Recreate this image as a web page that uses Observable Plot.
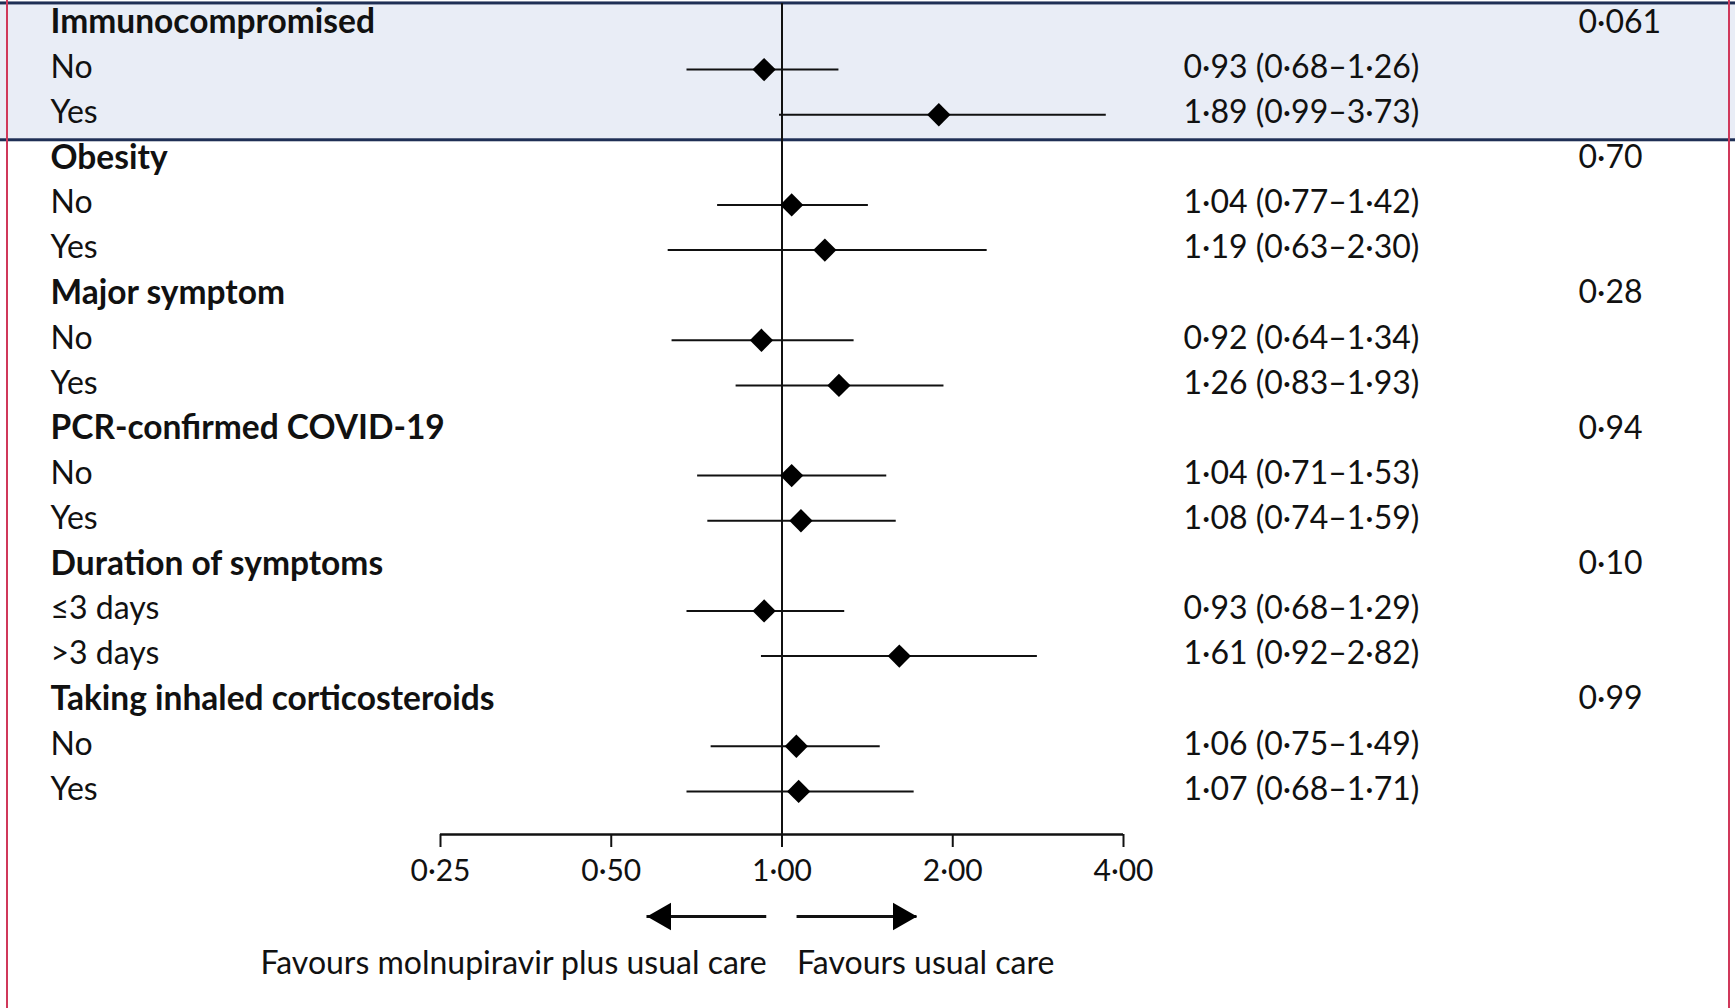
<!DOCTYPE html>
<html><head><meta charset="utf-8">
<script src="https://cdn.jsdelivr.net/npm/d3@7"></script>
<script src="https://cdn.jsdelivr.net/npm/@observablehq/plot@0.6"></script>
<style>
html,body{margin:0;padding:0;background:#fff;}
#wrap{position:relative;width:1735px;height:1008px;overflow:hidden;}
#wrap::before,#wrap::after{content:"";position:absolute;top:0;bottom:0;width:1.5px;background:#d0385a;z-index:2;}
#wrap::before{left:6px;}
#wrap::after{left:1728px;}
</style></head><body><div id="wrap"></div>
<script>
// ---- data ----
const groups = ["Immunocompromised", "Obesity", "Major symptom", "PCR-confirmed COVID-19", "Duration of symptoms", "Taking inhaled corticosteroids"];
const pValues = ["0·061", "0·70", "0·28", "0·94", "0·10", "0·99"];
const subgroupLabels = [["No", "Yes"], ["No", "Yes"], ["No", "Yes"], ["No", "Yes"], ["≤3 days", ">3 days"], ["No", "Yes"]];
const estimates = [0.93, 1.89, 1.04, 1.19, 0.92, 1.26, 1.04, 1.08, 0.93, 1.61, 1.06, 1.07];
const lower     = [0.68, 0.99, 0.77, 0.63, 0.64, 0.83, 0.71, 0.74, 0.68, 0.92, 0.75, 0.68];
const upper     = [1.26, 3.73, 1.42, 2.30, 1.34, 1.93, 1.53, 1.59, 1.29, 2.82, 1.49, 1.71];
const xTicks = [0.25, 0.5, 1, 2, 4];
const highlightedGroup = "Immunocompromised";
const favourLeft = {label: "Favours molnupiravir plus usual care", from: 0.94, to: 0.578};
const favourRight = {label: "Favours usual care", from: 1.063, to: 1.73};

// ---- build table ----
const fmt = v => v.toFixed(2).replace(".", "·");
const headers = [], rows = [], bands = [];
let r = 0, k = 0;
groups.forEach((g, gi) => {
  const start = r;
  headers.push({row: r++, label: g, p: pValues[gi]});
  subgroupLabels[gi].forEach(lab => {
    rows.push({row: r++, label: lab, est: estimates[k], lo: lower[k], hi: upper[k],
      ci: `${fmt(estimates[k])} (${fmt(lower[k])}–${fmt(upper[k])})`});
    k++;
  });
  if (g === highlightedGroup) bands.push({y1: start - 0.5, y2: r - 0.5});
});
const axisRow = r;
const ink = "#111";

const chart = Plot.plot({
  width: 1735, height: 1008,
  marginTop: 3, marginBottom: 174, marginLeft: 0, marginRight: 0,
  style: {fontFamily: "Lato, sans-serif", fontSize: "32px", color: ink, background: "transparent"},
  x: {type: "log", base: 2, domain: [xTicks[0], xTicks[xTicks.length - 1]], range: [440, 1123]},
  y: {domain: [0, axisRow], range: [22, 834], axis: null},
  marks: [
    Plot.rect(bands, {y1: "y1", y2: "y2", fill: "#e9edf6", stroke: "#1f2f55", strokeWidth: 3,
      insetTop: 3.5, insetBottom: -5, insetLeft: -4, insetRight: -4}),
    Plot.ruleX([1], {stroke: ink, strokeWidth: 2}),
    Plot.ruleY([axisRow], {x1: xTicks[0], x2: xTicks[xTicks.length - 1], stroke: ink, strokeWidth: 2.5}),
    Plot.axisX({ticks: xTicks, tickFormat: fmt, tickSize: 13, tickPadding: 12, strokeWidth: 2,
      fontSize: 30, anchor: "bottom", label: null}),
    Plot.ruleY(rows, {y: "row", x1: "lo", x2: "hi", stroke: ink, strokeWidth: 2, dy: 2}),
    Plot.dot(rows, {x: "est", y: "row", symbol: "diamond2", r: 10.5, fill: "#000", dy: 2}),
    Plot.text(headers, {y: "row", text: "label", frameAnchor: "left", dx: 50, textAnchor: "start", fontWeight: "bold", fontSize: 33.5, fill: ink}),
    Plot.text(rows, {y: "row", text: "label", frameAnchor: "left", dx: 50, textAnchor: "start", fill: ink}),
    Plot.text(rows, {y: "row", text: "ci", frameAnchor: "left", dx: 1183, textAnchor: "start", fill: ink}),
    Plot.text(headers, {y: "row", text: "p", frameAnchor: "left", dx: 1578, textAnchor: "start", fill: ink}),
    // favours arrows
    Plot.ruleY([favourLeft, favourRight], {y: () => axisRow, x1: "from", x2: "to", stroke: ink, strokeWidth: 3, dy: 82}),
    Plot.dot([favourLeft], {x: "to", y: () => axisRow, symbol: "triangle", rotate: -90, r: 10.3, fill: "#000", dy: 82, dx: 16}),
    Plot.dot([favourRight], {x: "to", y: () => axisRow, symbol: "triangle", rotate: 90, r: 10.3, fill: "#000", dy: 82, dx: -16}),
    Plot.text([favourLeft], {x: "from", y: () => axisRow, text: "label", textAnchor: "end", dy: 129, fill: ink}),
    Plot.text([favourRight], {x: "from", y: () => axisRow, text: "label", textAnchor: "start", dy: 129, fill: ink})
  ]
});
document.getElementById("wrap").appendChild(chart);
</script></body></html>
